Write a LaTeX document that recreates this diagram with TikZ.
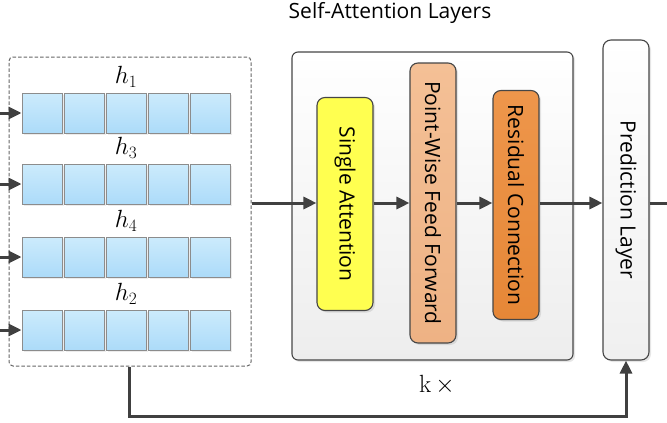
\documentclass[tikz,border=0pt]{standalone}
\usepackage[no-math]{fontspec}
\setmainfont{Open Sans}
\usetikzlibrary{arrows.meta,shadows}
\definecolor{sqtop}{RGB}{204,235,252}
\definecolor{sqbot}{RGB}{172,219,249}
\definecolor{sqborder}{RGB}{140,140,140}
\definecolor{arrowc}{RGB}{64,64,64}
\definecolor{boxborder}{RGB}{70,70,70}
\definecolor{yel}{RGB}{255,255,80}
\definecolor{pwtop}{RGB}{244,192,150}
\definecolor{pwbot}{RGB}{238,178,132}
\definecolor{rctop}{RGB}{238,150,75}
\definecolor{rcbot}{RGB}{230,135,55}
\tikzset{
  sq/.style={draw=sqborder, line width=1pt, top color=sqtop, bottom color=sqbot,
    minimum width=40pt, minimum height=40pt, inner sep=0pt,
    drop shadow={shadow xshift=1.5pt, shadow yshift=-1.5pt, opacity=0.15}},
  dbox/.style={draw=black!60, line width=1pt, dash pattern=on 3.5pt off 2pt,
    rounded corners=4pt, inner sep=0pt},
  layer/.style={draw=boxborder, line width=1.1pt, rounded corners=8pt, inner sep=0pt,
    font=\fontsize{21}{24}\selectfont,
    drop shadow={shadow xshift=2pt, shadow yshift=-2pt, opacity=0.2}},
  graybox/.style={draw=boxborder, line width=1.1pt, rounded corners=6pt, inner sep=0pt,
    top color=white, bottom color=black!7,
    drop shadow={shadow xshift=2pt, shadow yshift=-2pt, opacity=0.2}},
  hlab/.style={font=\fontsize{24}{26}\selectfont, inner sep=0pt},
  ttl/.style={font=\fontsize{21}{24}\selectfont, inner sep=0pt},
  arr/.style={draw=arrowc, line width=3pt, -{Triangle[length=13pt,width=12pt]}},
  ln/.style={draw=arrowc, line width=3pt},
}
\begin{document}
\begin{tikzpicture}[x=1pt,y=-1pt]
\useasboundingbox (0,0) rectangle (667,423);
% input group
\node[dbox, minimum width=242pt, minimum height=309pt] (grp) at (130,211.5) {};
\foreach \r/\yy/\lab in {1/113/1, 2/184/3, 3/257/4, 4/330/2}{
  \foreach \c in {1,...,5}{
    \node[sq] (s\r\c) at ({42*\c},{\yy}) {};
  }
  \node[hlab] (h\r) at (126,{\yy-36}) {$h_{\lab}$};
  \coordinate (in\r) at (0,{\yy});
  \draw[arr] (in\r) -- (s\r1.west);
}
% self-attention block
\node[ttl] (title) at (390,13) {Self-Attention Layers};
\node[graybox, minimum width=281pt, minimum height=308pt] (sal) at (432.5,206) {};
\node[layer, fill=yel, minimum width=56pt, minimum height=213pt] (sa) at (345,204)
  {\rotatebox{-90}{Single Attention}};
\node[layer, top color=pwtop, bottom color=pwbot, minimum width=46pt, minimum height=280pt] (pw) at (433,203)
  {\rotatebox{-90}{Point-Wise Feed Forward}};
\node[layer, top color=rctop, bottom color=rcbot, minimum width=46pt, minimum height=229pt] (rc) at (516,205)
  {\rotatebox{-90}{Residual Connection}};
\node[layer, top color=white, bottom color=black!6, minimum width=46pt, minimum height=320pt] (pred) at (626,200)
  {\rotatebox{-90}{Prediction Layer}};
\node[inner sep=0pt, font=\fontsize{24}{26}\selectfont] (kx) at (437,385) {$\mathrm{k}\,\times$};
% connectors
\coordinate (ay) at (0,203);
\draw[arr] (grp.east |- ay) -- (sa.west |- ay);
\draw[arr] (sa.east |- ay) -- (pw.west |- ay);
\draw[arr] (pw.east |- ay) -- (rc.west |- ay);
\draw[arr] (rc.east |- ay) -- (pred.west |- ay);
\coordinate (out) at (667,203);
\draw[ln] (pred.east |- ay) -- (out);
\coordinate (fb) at (129,416);
\draw[arr, rounded corners=0pt] (grp.south -| fb) -- (fb) -| (pred.south);
\end{tikzpicture}
\end{document}
